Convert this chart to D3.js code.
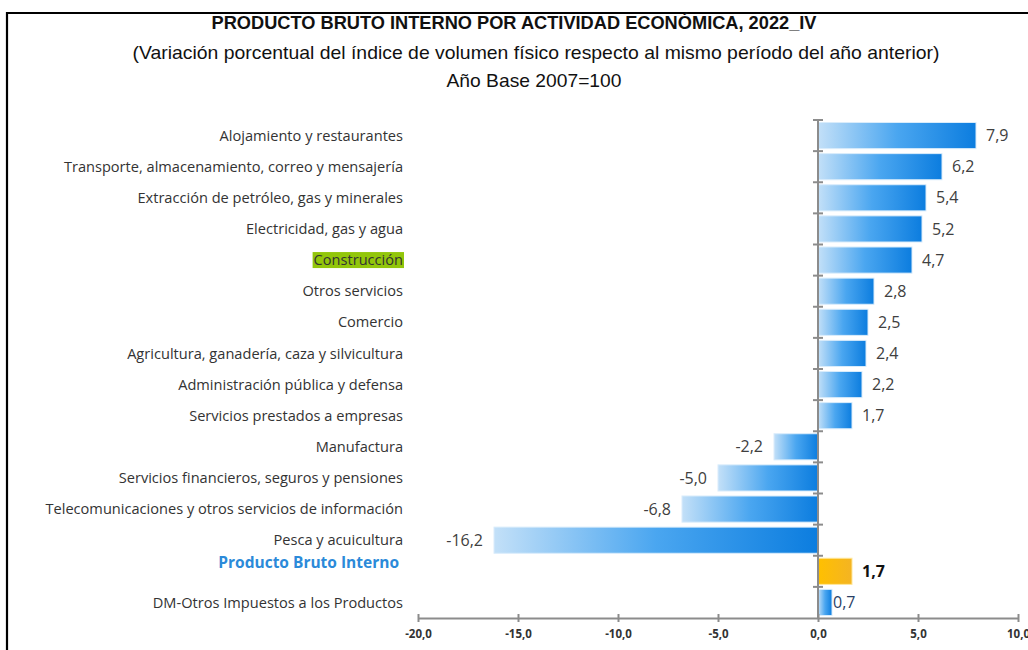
<!DOCTYPE html>
<html>
<head>
<meta charset="utf-8">
<script src="https://cdn.jsdelivr.net/npm/d3@7"></script>
<style>
  body { margin: 0; background: #fff; }
  svg { display: block; }
</style>
</head>
<body>
<div id="viz"></div>
<script>
var width = 1028, height = 650;

var categories = [
  "Alojamiento y restaurantes",
  "Transporte, almacenamiento, correo y mensajería",
  "Extracción de petróleo, gas y minerales",
  "Electricidad, gas y agua",
  "Construcción",
  "Otros servicios",
  "Comercio",
  "Agricultura, ganadería, caza y silvicultura",
  "Administración pública y defensa",
  "Servicios prestados a empresas",
  "Manufactura",
  "Servicios financieros, seguros y pensiones",
  "Telecomunicaciones y otros servicios de información",
  "Pesca y acuicultura",
  "Producto Bruto Interno",
  "DM-Otros Impuestos a los Productos"
];
var values = [7.9, 6.2, 5.4, 5.2, 4.7, 2.8, 2.5, 2.4, 2.2, 1.7, -2.2, -5.0, -6.8, -16.2, 1.7, 0.7];
var xTicks = [-20, -15, -10, -5, 0, 5, 10];

// comma decimals with a plain hyphen for negatives
var fmt = function(v) { return (v < 0 ? "-" : "") + Math.abs(v).toFixed(1).replace(".", ","); };

var svg = d3.select("#viz").append("svg")
  .attr("width", width)
  .attr("height", height);

var defs = svg.append("defs");
var gBlue = defs.append("linearGradient").attr("id", "gBlue");
gBlue.append("stop").attr("offset", "0%").attr("stop-color", "#c3e0f8");
gBlue.append("stop").attr("offset", "50%").attr("stop-color", "#4aa6f0");
gBlue.append("stop").attr("offset", "100%").attr("stop-color", "#0c7ddf");
var gGold = defs.append("linearGradient").attr("id", "gGold");
gGold.append("stop").attr("offset", "0%").attr("stop-color", "#ffc000");
gGold.append("stop").attr("offset", "100%").attr("stop-color", "#f4b423");

// frame
svg.append("path")
  .attr("d", "M7,650V13H1028")
  .attr("fill", "none")
  .attr("stroke", "#000")
  .attr("stroke-width", 2.2);

// titles (condensed look via textLength)
var titleFont = "'Liberation Sans', Arial, sans-serif";
var titles = [
  {t: "PRODUCTO BRUTO INTERNO POR ACTIVIDAD ECONÓMICA, 2022_IV", x: 514, y: 29, w: 605, b: true},
  {t: "(Variación porcentual del índice de volumen físico respecto al mismo período del año anterior)", x: 536, y: 59, w: 807, b: false},
  {t: "Año Base 2007=100", x: 534, y: 87, w: 175, b: false}
];
titles.forEach(function(d) {
  svg.append("text")
    .attr("x", d.x).attr("y", d.y)
    .attr("text-anchor", "middle")
    .attr("textLength", d.w)
    .attr("lengthAdjust", "spacingAndGlyphs")
    .style("font-family", titleFont)
    .style("font-weight", d.b ? "bold" : "normal")
    .style("font-size", "19px")
    .attr("fill", "#111")
    .text(d.t);
});

// scales
var x = d3.scaleLinear().domain([-20, 10]).range([418, 1018]);
var y = d3.scaleBand().domain(categories).range([120, 618]).paddingInner(0.16).paddingOuter(0.08);

var bodyFont = "'Open Sans', Lato, sans-serif";

// bars
svg.append("g").selectAll("rect")
  .data(categories)
  .join("rect")
  .attr("x", function(d, i) { return x(Math.min(0, values[i])); })
  .attr("y", function(d) { return y(d); })
  .attr("width", function(d, i) { return Math.abs(x(values[i]) - x(0)); })
  .attr("height", y.bandwidth())
  .attr("fill", function(d) { return d === "Producto Bruto Interno" ? "url(#gGold)" : "url(#gBlue)"; })
  .attr("stroke", function(d) { return d === "Producto Bruto Interno" ? "#ffe79a" : "#d9ecfb"; })
  .attr("stroke-width", 1);

// x axis
var xAxis = svg.append("g")
  .attr("transform", "translate(0,618)")
  .call(d3.axisBottom(x).tickValues(xTicks).tickSize(4).tickSizeOuter(0).tickFormat(fmt));
xAxis.select(".domain").attr("stroke", "#8c8c8c").attr("stroke-width", 2);
xAxis.selectAll(".tick line").attr("stroke", "#8c8c8c").attr("stroke-width", 2).attr("y1", -4).attr("y2", 4);
xAxis.selectAll(".tick text")
  .attr("y", 12)
  .style("font-family", bodyFont)
  .style("font-weight", "bold")
  .style("font-size", "11.5px")
  .attr("fill", "#333");

// y axis line at zero with ticks between bands
var yAxis = svg.append("g");
yAxis.append("line")
  .attr("x1", x(0)).attr("x2", x(0))
  .attr("y1", 120).attr("y2", 618)
  .attr("stroke", "#8c8c8c").attr("stroke-width", 2);
yAxis.selectAll(".yt")
  .data(d3.range(categories.length))
  .join("line")
  .attr("x1", x(0) - 5).attr("x2", x(0) + 5)
  .attr("y1", function(i) { return 120 + i * (498 / categories.length); })
  .attr("y2", function(i) { return 120 + i * (498 / categories.length); })
  .attr("stroke", "#8c8c8c").attr("stroke-width", 2);

// category labels
var labels = svg.append("g");
categories.forEach(function(c, i) {
  var cy = y(c) + y.bandwidth() / 2;
  var isPbi = c === "Producto Bruto Interno";
  var hl = c === "Construcción" ? labels.append("rect").attr("fill", "#92c60a") : null;
  var t = labels.append("text")
    .attr("x", isPbi ? 399 : 403)
    .attr("y", isPbi ? cy - 9 : cy)
    .attr("dy", "0.35em")
    .attr("text-anchor", "end")
    .style("font-family", bodyFont)
    .style("font-size", isPbi ? "15.5px" : "14.6px")
    .style("font-weight", isPbi ? "bold" : "normal")
    .attr("fill", isPbi ? "#2b8ad9" : "#333")
    .text(c);
  if (hl) {
    var bb = t.node().getBBox();
    hl.attr("x", bb.x - 1).attr("y", cy - 8).attr("width", bb.width + 2).attr("height", 16);
  }
});

// value labels
svg.append("g").selectAll("text")
  .data(categories)
  .join("text")
  .attr("x", function(d, i) {
    var v = values[i];
    if (d === "DM-Otros Impuestos a los Productos") return x(v) + 1;
    return v < 0 ? x(v) - 11 : x(v) + 10;
  })
  .attr("y", function(d) { return y(d) + y.bandwidth() / 2; })
  .attr("dy", "0.35em")
  .attr("text-anchor", function(d, i) { return values[i] < 0 ? "end" : "start"; })
  .style("font-family", bodyFont)
  .style("font-size", "16px")
  .style("font-weight", function(d) { return d === "Producto Bruto Interno" ? "bold" : "normal"; })
  .attr("fill", function(d) {
    if (d === "Producto Bruto Interno") return "#111";
    if (d === "DM-Otros Impuestos a los Productos") return "#2a3f66";
    return "#404040";
  })
  .text(function(d, i) { return fmt(values[i]); });
</script>
</body>
</html>
